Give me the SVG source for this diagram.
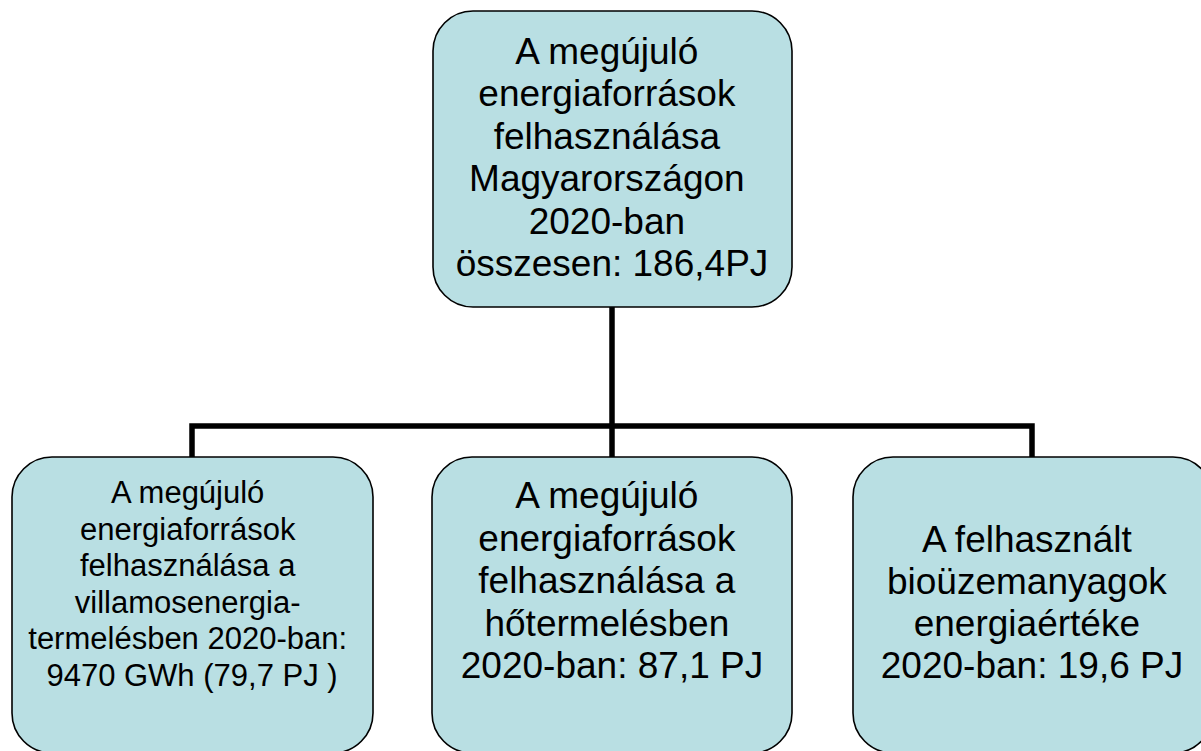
<svg xmlns="http://www.w3.org/2000/svg" width="1201" height="751" viewBox="0 0 1201 751">
<style>
.box{fill:#B9DFE3;stroke:#000;stroke-width:1.6}
.t{font-family:"Liberation Sans",Arial,sans-serif;fill:#000;text-anchor:middle}
.big{font-size:37px}
.small{font-size:31px}
.conn{fill:none;stroke:#000;stroke-width:5.5}
</style>
<rect width="1201" height="751" fill="#fff"/>
<g id="connectors">
<path class="conn" d="M612,307 V426"/>
<path class="conn" d="M192,457 V426 H1032 V457"/>
<path class="conn" d="M612,426 V457"/>
</g>
<g id="top">
<rect class="box" x="433" y="11" width="359" height="296" rx="40"/>
<text class="t big" x="612" y="63.5">
<tspan x="612">A megújuló</tspan>
<tspan x="612" dy="42.5">energiaforrások</tspan>
<tspan x="612" dy="42.5">felhasználása</tspan>
<tspan x="612" dy="42.5">Magyarországon</tspan>
<tspan x="612" dy="42.5">2020-ban</tspan>
<tspan x="612" dy="42.5">összesen: 186,4PJ</tspan>
</text>
</g>
<g id="left">
<rect class="box" x="12" y="457" width="361" height="296" rx="40"/>
<text class="t small" x="192" y="503">
<tspan x="192">A megújuló</tspan>
<tspan x="192" dy="36.5">energiaforrások</tspan>
<tspan x="192" dy="36.5">felhasználása a</tspan>
<tspan x="192" dy="36.5">villamosenergia-</tspan>
<tspan x="192" dy="36.5">termelésben 2020-ban:</tspan>
<tspan x="192" dy="36.5">9470 GWh (79,7 PJ )</tspan>
</text>
</g>
<g id="middle">
<rect class="box" x="432" y="457" width="360" height="296" rx="40"/>
<text class="t big" x="612" y="508">
<tspan x="612">A megújuló</tspan>
<tspan x="612" dy="42.5">energiaforrások</tspan>
<tspan x="612" dy="42.5">felhasználása a</tspan>
<tspan x="612" dy="42.5">hőtermelésben</tspan>
<tspan x="612" dy="42.5">2020-ban: 87,1 PJ</tspan>
</text>
</g>
<g id="right">
<rect class="box" x="853" y="457" width="360" height="296" rx="40"/>
<text class="t big" x="1032" y="552">
<tspan x="1032">A felhasznált</tspan>
<tspan x="1032" dy="42">bioüzemanyagok</tspan>
<tspan x="1032" dy="42">energiaértéke</tspan>
<tspan x="1032" dy="42">2020-ban: 19,6 PJ</tspan>
</text>
</g>
</svg>
